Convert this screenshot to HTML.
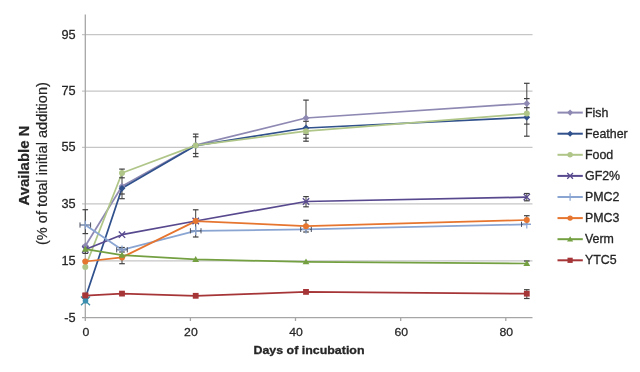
<!DOCTYPE html>
<html><head><meta charset="utf-8"><style>html,body{margin:0;padding:0;background:#fff;width:640px;height:372px;overflow:hidden}svg{display:block;filter:blur(0.45px)}</style></head>
<body><svg width="640" height="372" viewBox="0 0 640 372">
<rect width="640" height="372" fill="#ffffff"/>
<line x1="82" y1="34.6" x2="532.5" y2="34.6" stroke="#c6c6c6" stroke-width="1.3"/>
<line x1="82" y1="91.1" x2="532.5" y2="91.1" stroke="#c6c6c6" stroke-width="1.3"/>
<line x1="82" y1="147.4" x2="532.5" y2="147.4" stroke="#c6c6c6" stroke-width="1.3"/>
<line x1="82" y1="203.8" x2="532.5" y2="203.8" stroke="#c6c6c6" stroke-width="1.3"/>
<line x1="82" y1="260.9" x2="532.5" y2="260.9" stroke="#c6c6c6" stroke-width="1.3"/>
<line x1="82" y1="317.6" x2="532.5" y2="317.6" stroke="#a6a6a6" stroke-width="1.3"/>
<line x1="85.3" y1="14.4" x2="85.3" y2="321" stroke="#a6a6a6" stroke-width="1.3"/>
<line x1="190.4" y1="317.6" x2="190.4" y2="321" stroke="#a6a6a6" stroke-width="1.3"/>
<line x1="295.5" y1="317.6" x2="295.5" y2="321" stroke="#a6a6a6" stroke-width="1.3"/>
<line x1="400.7" y1="317.6" x2="400.7" y2="321" stroke="#a6a6a6" stroke-width="1.3"/>
<line x1="505.8" y1="317.6" x2="505.8" y2="321" stroke="#a6a6a6" stroke-width="1.3"/>
<text x="75.7" y="38.6" font-family="Liberation Sans, sans-serif" fill="#262626" font-size="12.4" text-anchor="end" stroke="#262626" stroke-width="0.25" transform="translate(75.7 0) scale(1.03 1) translate(-75.7 0)">95</text>
<text x="75.7" y="95.1" font-family="Liberation Sans, sans-serif" fill="#262626" font-size="12.4" text-anchor="end" stroke="#262626" stroke-width="0.25" transform="translate(75.7 0) scale(1.03 1) translate(-75.7 0)">75</text>
<text x="75.7" y="151.4" font-family="Liberation Sans, sans-serif" fill="#262626" font-size="12.4" text-anchor="end" stroke="#262626" stroke-width="0.25" transform="translate(75.7 0) scale(1.03 1) translate(-75.7 0)">55</text>
<text x="75.7" y="207.8" font-family="Liberation Sans, sans-serif" fill="#262626" font-size="12.4" text-anchor="end" stroke="#262626" stroke-width="0.25" transform="translate(75.7 0) scale(1.03 1) translate(-75.7 0)">35</text>
<text x="75.7" y="264.9" font-family="Liberation Sans, sans-serif" fill="#262626" font-size="12.4" text-anchor="end" stroke="#262626" stroke-width="0.25" transform="translate(75.7 0) scale(1.03 1) translate(-75.7 0)">15</text>
<text x="75.7" y="321.6" font-family="Liberation Sans, sans-serif" fill="#262626" font-size="12.4" text-anchor="end" stroke="#262626" stroke-width="0.25" transform="translate(75.7 0) scale(1.03 1) translate(-75.7 0)">-5</text>
<text x="85.8" y="336.3" font-family="Liberation Sans, sans-serif" fill="#262626" font-size="11.8" text-anchor="middle" stroke="#262626" stroke-width="0.25" transform="translate(85.3 0) scale(1.04 1) translate(-85.3 0)">0</text>
<text x="190.9" y="336.3" font-family="Liberation Sans, sans-serif" fill="#262626" font-size="11.8" text-anchor="middle" stroke="#262626" stroke-width="0.25" transform="translate(190.4 0) scale(1.04 1) translate(-190.4 0)">20</text>
<text x="296.0" y="336.3" font-family="Liberation Sans, sans-serif" fill="#262626" font-size="11.8" text-anchor="middle" stroke="#262626" stroke-width="0.25" transform="translate(295.5 0) scale(1.04 1) translate(-295.5 0)">40</text>
<text x="401.2" y="336.3" font-family="Liberation Sans, sans-serif" fill="#262626" font-size="11.8" text-anchor="middle" stroke="#262626" stroke-width="0.25" transform="translate(400.7 0) scale(1.04 1) translate(-400.7 0)">60</text>
<text x="506.3" y="336.3" font-family="Liberation Sans, sans-serif" fill="#262626" font-size="11.8" text-anchor="middle" stroke="#262626" stroke-width="0.25" transform="translate(505.8 0) scale(1.04 1) translate(-505.8 0)">80</text>
<text x="309" y="354" font-family="Liberation Sans, sans-serif" fill="#262626" font-size="11.4" font-weight="bold" stroke="#262626" stroke-width="0.3" text-anchor="middle" textLength="111" lengthAdjust="spacingAndGlyphs">Days of incubation</text>
<text transform="translate(29.1 165.6) rotate(-90)" font-family="Liberation Sans, sans-serif" fill="#262626" font-size="14.5" font-weight="bold" stroke="#262626" stroke-width="0.2" text-anchor="middle" textLength="80" lengthAdjust="spacingAndGlyphs">Available N</text>
<text transform="translate(46.6 163.6) rotate(-90)" font-family="Liberation Sans, sans-serif" fill="#262626" font-size="13.9" stroke="#262626" stroke-width="0.2" text-anchor="middle" textLength="163" lengthAdjust="spacingAndGlyphs">(% of total initial addition)</text>
<polyline points="85.3,246.0 122.0,186.2 195.7,145.2 306.0,118.0 526.8,103.5" fill="none" stroke="#8e89b3" stroke-width="1.75" stroke-linejoin="round"/>
<polyline points="85.3,298.0 122.0,188.3 195.7,145.6 306.0,128.0 526.8,117.3" fill="none" stroke="#30518c" stroke-width="1.75" stroke-linejoin="round"/>
<polyline points="85.3,267.0 122.0,173.0 195.7,145.4 306.0,131.2 526.8,113.6" fill="none" stroke="#b0c689" stroke-width="1.75" stroke-linejoin="round"/>
<polyline points="85.3,249.5 122.0,234.7 195.7,221.0 306.0,201.5 526.8,197.1" fill="none" stroke="#58498e" stroke-width="1.75" stroke-linejoin="round"/>
<polyline points="85.3,225.0 122.0,249.8 195.7,230.8 306.0,229.4 526.8,224.3" fill="none" stroke="#8aa5d2" stroke-width="1.75" stroke-linejoin="round"/>
<polyline points="85.3,261.5 122.0,257.4 195.7,221.1 306.0,226.2 526.8,220.0" fill="none" stroke="#e6752f" stroke-width="1.75" stroke-linejoin="round"/>
<polyline points="85.3,249.1 122.0,255.2 195.7,259.4 306.0,261.8 526.8,263.5" fill="none" stroke="#74a042" stroke-width="1.75" stroke-linejoin="round"/>
<polyline points="85.3,295.6 122.0,293.6 195.7,295.8 306.0,291.9 526.8,293.7" fill="none" stroke="#a63538" stroke-width="1.75" stroke-linejoin="round"/>
<line x1="85.3" y1="209.7" x2="85.3" y2="233.6" stroke="#404040" stroke-width="1"/>
<line x1="82.5" y1="209.7" x2="88.1" y2="209.7" stroke="#404040" stroke-width="1.2"/>
<line x1="82.5" y1="233.6" x2="88.1" y2="233.6" stroke="#404040" stroke-width="1.2"/>
<line x1="85.3" y1="245.4" x2="85.3" y2="253.4" stroke="#404040" stroke-width="1"/>
<line x1="82.5" y1="245.4" x2="88.1" y2="245.4" stroke="#404040" stroke-width="1.2"/>
<line x1="82.5" y1="253.4" x2="88.1" y2="253.4" stroke="#404040" stroke-width="1.2"/>
<line x1="122.0" y1="169.1" x2="122.0" y2="198.7" stroke="#404040" stroke-width="1"/>
<line x1="119.2" y1="169.1" x2="124.8" y2="169.1" stroke="#404040" stroke-width="1.2"/>
<line x1="119.2" y1="177.8" x2="124.8" y2="177.8" stroke="#404040" stroke-width="1.2"/>
<line x1="119.2" y1="194.0" x2="124.8" y2="194.0" stroke="#404040" stroke-width="1.2"/>
<line x1="119.2" y1="198.7" x2="124.8" y2="198.7" stroke="#404040" stroke-width="1.2"/>
<line x1="122.0" y1="247.5" x2="122.0" y2="252.0" stroke="#404040" stroke-width="1"/>
<line x1="119.2" y1="247.5" x2="124.8" y2="247.5" stroke="#404040" stroke-width="1.2"/>
<line x1="119.2" y1="252.0" x2="124.8" y2="252.0" stroke="#404040" stroke-width="1.2"/>
<line x1="122.0" y1="255.0" x2="122.0" y2="263.7" stroke="#404040" stroke-width="1"/>
<line x1="119.2" y1="263.7" x2="124.8" y2="263.7" stroke="#404040" stroke-width="1.2"/>
<line x1="195.7" y1="134.1" x2="195.7" y2="156.7" stroke="#404040" stroke-width="1"/>
<line x1="192.89999999999998" y1="134.1" x2="198.5" y2="134.1" stroke="#404040" stroke-width="1.2"/>
<line x1="192.89999999999998" y1="136.8" x2="198.5" y2="136.8" stroke="#404040" stroke-width="1.2"/>
<line x1="192.89999999999998" y1="153.5" x2="198.5" y2="153.5" stroke="#404040" stroke-width="1.2"/>
<line x1="192.89999999999998" y1="156.7" x2="198.5" y2="156.7" stroke="#404040" stroke-width="1.2"/>
<line x1="195.7" y1="209.8" x2="195.7" y2="237.0" stroke="#404040" stroke-width="1"/>
<line x1="192.89999999999998" y1="209.8" x2="198.5" y2="209.8" stroke="#404040" stroke-width="1.2"/>
<line x1="192.89999999999998" y1="237.0" x2="198.5" y2="237.0" stroke="#404040" stroke-width="1.2"/>
<line x1="306.0" y1="100.1" x2="306.0" y2="141.2" stroke="#404040" stroke-width="1"/>
<line x1="303.2" y1="100.1" x2="308.8" y2="100.1" stroke="#404040" stroke-width="1.2"/>
<line x1="303.2" y1="121.3" x2="308.8" y2="121.3" stroke="#404040" stroke-width="1.2"/>
<line x1="303.2" y1="134.2" x2="308.8" y2="134.2" stroke="#404040" stroke-width="1.2"/>
<line x1="303.2" y1="138.2" x2="308.8" y2="138.2" stroke="#404040" stroke-width="1.2"/>
<line x1="303.2" y1="141.2" x2="308.8" y2="141.2" stroke="#404040" stroke-width="1.2"/>
<line x1="306.0" y1="196.6" x2="306.0" y2="206.8" stroke="#404040" stroke-width="1"/>
<line x1="303.2" y1="196.6" x2="308.8" y2="196.6" stroke="#404040" stroke-width="1.2"/>
<line x1="303.2" y1="206.8" x2="308.8" y2="206.8" stroke="#404040" stroke-width="1.2"/>
<line x1="306.0" y1="220.3" x2="306.0" y2="232.0" stroke="#404040" stroke-width="1"/>
<line x1="303.2" y1="220.3" x2="308.8" y2="220.3" stroke="#404040" stroke-width="1.2"/>
<line x1="303.2" y1="232.0" x2="308.8" y2="232.0" stroke="#404040" stroke-width="1.2"/>
<line x1="526.8" y1="83.3" x2="526.8" y2="136.2" stroke="#404040" stroke-width="1"/>
<line x1="524.0" y1="83.3" x2="529.5999999999999" y2="83.3" stroke="#404040" stroke-width="1.2"/>
<line x1="524.0" y1="98.6" x2="529.5999999999999" y2="98.6" stroke="#404040" stroke-width="1.2"/>
<line x1="524.0" y1="107.7" x2="529.5999999999999" y2="107.7" stroke="#404040" stroke-width="1.2"/>
<line x1="524.0" y1="124.1" x2="529.5999999999999" y2="124.1" stroke="#404040" stroke-width="1.2"/>
<line x1="524.0" y1="136.2" x2="529.5999999999999" y2="136.2" stroke="#404040" stroke-width="1.2"/>
<line x1="526.8" y1="193.5" x2="526.8" y2="200.8" stroke="#404040" stroke-width="1"/>
<line x1="524.0" y1="193.5" x2="529.5999999999999" y2="193.5" stroke="#404040" stroke-width="1.2"/>
<line x1="524.0" y1="200.8" x2="529.5999999999999" y2="200.8" stroke="#404040" stroke-width="1.2"/>
<line x1="526.8" y1="215.7" x2="526.8" y2="224.0" stroke="#404040" stroke-width="1"/>
<line x1="524.0" y1="215.7" x2="529.5999999999999" y2="215.7" stroke="#404040" stroke-width="1.2"/>
<line x1="526.8" y1="261.0" x2="526.8" y2="263.5" stroke="#404040" stroke-width="1"/>
<line x1="524.0" y1="261.0" x2="529.5999999999999" y2="261.0" stroke="#404040" stroke-width="1.2"/>
<line x1="526.8" y1="289.7" x2="526.8" y2="298.5" stroke="#404040" stroke-width="1"/>
<line x1="524.0" y1="289.7" x2="529.5999999999999" y2="289.7" stroke="#404040" stroke-width="1.2"/>
<line x1="524.0" y1="298.5" x2="529.5999999999999" y2="298.5" stroke="#404040" stroke-width="1.2"/>
<path d="M80.0 225.0H90.6M80.0 222.4V227.6M90.6 222.4V227.6" stroke="#4a5060" stroke-width="1" fill="none"/>
<path d="M116.7 249.8H127.3M116.7 247.20000000000002V252.4M127.3 247.20000000000002V252.4" stroke="#4a5060" stroke-width="1" fill="none"/>
<path d="M190.39999999999998 230.8H201.0M190.39999999999998 228.20000000000002V233.4M201.0 228.20000000000002V233.4" stroke="#4a5060" stroke-width="1" fill="none"/>
<path d="M300.7 229.4H311.3M300.7 226.8V232.0M311.3 226.8V232.0" stroke="#4a5060" stroke-width="1" fill="none"/>
<path d="M521.5 224.3H530.8M521.5 221.70000000000002V226.9" stroke="#4a5060" stroke-width="1" fill="none"/>
<path d="M85.3 242.6L88.7 246.0L85.3 249.4L81.89999999999999 246.0Z" fill="#8e89b3"/>
<path d="M122.0 182.79999999999998L125.4 186.2L122.0 189.6L118.6 186.2Z" fill="#8e89b3"/>
<path d="M195.7 141.79999999999998L199.1 145.2L195.7 148.6L192.29999999999998 145.2Z" fill="#8e89b3"/>
<path d="M306.0 114.6L309.4 118.0L306.0 121.4L302.6 118.0Z" fill="#8e89b3"/>
<path d="M526.8 100.1L530.1999999999999 103.5L526.8 106.9L523.4 103.5Z" fill="#8e89b3"/>
<path d="M85.3 294.6L88.7 298.0L85.3 301.4L81.89999999999999 298.0Z" fill="#30518c"/>
<path d="M122.0 184.9L125.4 188.3L122.0 191.70000000000002L118.6 188.3Z" fill="#30518c"/>
<path d="M195.7 142.2L199.1 145.6L195.7 149.0L192.29999999999998 145.6Z" fill="#30518c"/>
<path d="M306.0 124.6L309.4 128.0L306.0 131.4L302.6 128.0Z" fill="#30518c"/>
<path d="M526.8 113.89999999999999L530.1999999999999 117.3L526.8 120.7L523.4 117.3Z" fill="#30518c"/>
<circle cx="85.3" cy="267.0" r="3.0" fill="#b0c689"/>
<circle cx="122.0" cy="173.0" r="3.0" fill="#b0c689"/>
<circle cx="195.7" cy="145.4" r="3.0" fill="#b0c689"/>
<circle cx="306.0" cy="131.2" r="3.0" fill="#b0c689"/>
<circle cx="526.8" cy="113.6" r="3.0" fill="#b0c689"/>
<path d="M82.1 246.3L88.5 252.7M88.5 246.3L82.1 252.7" stroke="#58498e" stroke-width="1.3" fill="none"/>
<path d="M118.8 231.5L125.2 237.89999999999998M125.2 231.5L118.8 237.89999999999998" stroke="#58498e" stroke-width="1.3" fill="none"/>
<path d="M192.5 217.8L198.89999999999998 224.2M198.89999999999998 217.8L192.5 224.2" stroke="#58498e" stroke-width="1.3" fill="none"/>
<path d="M302.8 198.3L309.2 204.7M309.2 198.3L302.8 204.7" stroke="#58498e" stroke-width="1.3" fill="none"/>
<path d="M523.5999999999999 193.9L530.0 200.29999999999998M530.0 193.9L523.5999999999999 200.29999999999998" stroke="#58498e" stroke-width="1.3" fill="none"/>
<path d="M81.1 225.0L89.5 225.0M85.3 220.8L85.3 229.2" stroke="#8aa5d2" stroke-width="1.2" fill="none"/>
<path d="M117.8 249.8L126.2 249.8M122.0 245.60000000000002L122.0 254.0" stroke="#8aa5d2" stroke-width="1.2" fill="none"/>
<path d="M191.5 230.8L199.89999999999998 230.8M195.7 226.60000000000002L195.7 235.0" stroke="#8aa5d2" stroke-width="1.2" fill="none"/>
<path d="M301.8 229.4L310.2 229.4M306.0 225.20000000000002L306.0 233.6" stroke="#8aa5d2" stroke-width="1.2" fill="none"/>
<path d="M522.5999999999999 224.3L531.0 224.3M526.8 220.10000000000002L526.8 228.5" stroke="#8aa5d2" stroke-width="1.2" fill="none"/>
<circle cx="85.3" cy="261.5" r="3.0" fill="#e6752f"/>
<circle cx="122.0" cy="257.4" r="3.0" fill="#e6752f"/>
<circle cx="195.7" cy="221.1" r="3.0" fill="#e6752f"/>
<circle cx="306.0" cy="226.2" r="3.0" fill="#e6752f"/>
<circle cx="526.8" cy="220.0" r="3.0" fill="#e6752f"/>
<path d="M85.3 245.7L88.7 251.65L81.89999999999999 251.65Z" fill="#74a042"/>
<path d="M122.0 251.79999999999998L125.4 257.75L118.6 257.75Z" fill="#74a042"/>
<path d="M195.7 255.99999999999997L199.1 261.95L192.29999999999998 261.95Z" fill="#74a042"/>
<path d="M306.0 258.40000000000003L309.4 264.35L302.6 264.35Z" fill="#74a042"/>
<path d="M526.8 260.1L530.1999999999999 266.05L523.4 266.05Z" fill="#74a042"/>
<rect x="82.39999999999999" y="292.70000000000005" width="5.8" height="5.8" fill="#a63538"/>
<rect x="119.1" y="290.70000000000005" width="5.8" height="5.8" fill="#a63538"/>
<rect x="192.79999999999998" y="292.90000000000003" width="5.8" height="5.8" fill="#a63538"/>
<rect x="303.1" y="289.0" width="5.8" height="5.8" fill="#a63538"/>
<rect x="523.9" y="290.8" width="5.8" height="5.8" fill="#a63538"/>
<path d="M81 296.5L90 305.3M90 296.5L81 305.3" stroke="#3f8fa8" stroke-width="1.3"/>
<circle cx="85.5" cy="300.8" r="2.8" fill="#3a8fb0"/>
<rect x="82.5" y="292.6" width="5.8" height="5.8" fill="#a63538"/>
<line x1="557.5" y1="112.6" x2="582.8" y2="112.6" stroke="#8e89b3" stroke-width="2"/>
<path d="M570.1 109.53999999999999L573.16 112.6L570.1 115.66L567.0400000000001 112.6Z" fill="#8e89b3"/>
<text x="585.0" y="116.6" font-family="Liberation Sans, sans-serif" fill="#262626" font-size="12.4" stroke="#262626" stroke-width="0.3">Fish</text>
<line x1="557.5" y1="133.7" x2="582.8" y2="133.7" stroke="#30518c" stroke-width="2"/>
<path d="M570.1 130.64L573.16 133.7L570.1 136.76L567.0400000000001 133.7Z" fill="#30518c"/>
<text x="585.0" y="137.7" font-family="Liberation Sans, sans-serif" fill="#262626" font-size="12.4" stroke="#262626" stroke-width="0.3">Feather</text>
<line x1="557.5" y1="154.8" x2="582.8" y2="154.8" stroke="#b0c689" stroke-width="2"/>
<circle cx="570.1" cy="154.8" r="2.7" fill="#b0c689"/>
<text x="585.0" y="158.8" font-family="Liberation Sans, sans-serif" fill="#262626" font-size="12.4" stroke="#262626" stroke-width="0.3">Food</text>
<line x1="557.5" y1="175.9" x2="582.8" y2="175.9" stroke="#58498e" stroke-width="2"/>
<path d="M567.22 173.02L572.98 178.78M572.98 173.02L567.22 178.78" stroke="#58498e" stroke-width="1.3" fill="none"/>
<text x="585.0" y="179.9" font-family="Liberation Sans, sans-serif" fill="#262626" font-size="12.4" stroke="#262626" stroke-width="0.3">GF2%</text>
<line x1="557.5" y1="197.0" x2="582.8" y2="197.0" stroke="#8aa5d2" stroke-width="2"/>
<path d="M566.32 197.0L573.88 197.0M570.1 193.22L570.1 200.78" stroke="#8aa5d2" stroke-width="1.2" fill="none"/>
<text x="585.0" y="201.0" font-family="Liberation Sans, sans-serif" fill="#262626" font-size="12.4" stroke="#262626" stroke-width="0.3">PMC2</text>
<line x1="557.5" y1="218.1" x2="582.8" y2="218.1" stroke="#e6752f" stroke-width="2"/>
<circle cx="570.1" cy="218.1" r="2.7" fill="#e6752f"/>
<text x="585.0" y="222.1" font-family="Liberation Sans, sans-serif" fill="#262626" font-size="12.4" stroke="#262626" stroke-width="0.3">PMC3</text>
<line x1="557.5" y1="239.2" x2="582.8" y2="239.2" stroke="#74a042" stroke-width="2"/>
<path d="M570.1 236.14L573.16 241.49499999999998L567.0400000000001 241.49499999999998Z" fill="#74a042"/>
<text x="585.0" y="243.2" font-family="Liberation Sans, sans-serif" fill="#262626" font-size="12.4" stroke="#262626" stroke-width="0.3">Verm</text>
<line x1="557.5" y1="260.3" x2="582.8" y2="260.3" stroke="#a63538" stroke-width="2"/>
<rect x="567.49" y="257.69" width="5.22" height="5.22" fill="#a63538"/>
<text x="585.0" y="264.3" font-family="Liberation Sans, sans-serif" fill="#262626" font-size="12.4" stroke="#262626" stroke-width="0.3">YTC5</text>
</svg></body></html>
